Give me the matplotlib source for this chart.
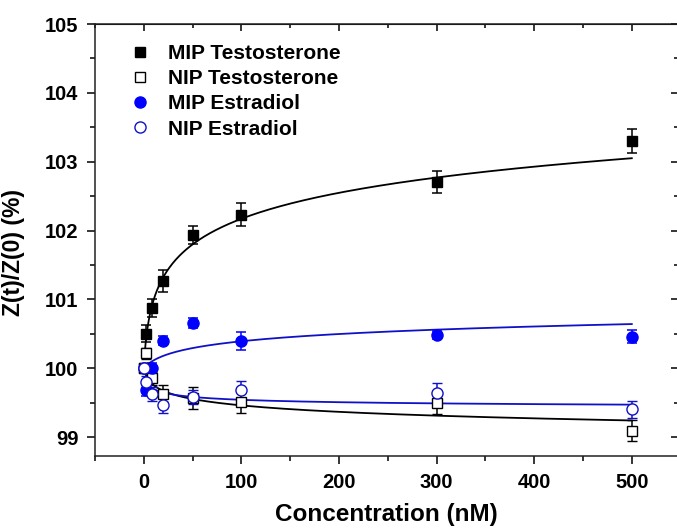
import numpy as np
import matplotlib
matplotlib.use("Agg")
import matplotlib.pyplot as plt
from matplotlib.lines import Line2D
from matplotlib.ticker import MultipleLocator

plt.rcParams['font.family'] = ['Liberation Sans', 'DejaVu Sans']
plt.rcParams['font.weight'] = 'bold'

# ---- data ----
conc = [0, 2, 8, 20, 50, 100, 300, 500]

mip_t = [100.0, 100.50, 100.87, 101.26, 101.94, 102.23, 102.70, 103.30]
mip_t_err = [0.05, 0.12, 0.13, 0.16, 0.13, 0.17, 0.16, 0.17]

nip_t = [100.0, 100.22, 99.85, 99.63, 99.57, 99.51, 99.50, 99.09]
nip_t_err = [0.05, 0.08, 0.10, 0.12, 0.16, 0.16, 0.17, 0.15]

mip_e = [100.0, 99.68, 100.0, 100.40, 100.66, 100.40, 100.48, 100.46]
mip_e_err = [0.05, 0.08, 0.08, 0.07, 0.07, 0.13, 0.06, 0.09]

nip_e = [100.0, 99.80, 99.63, 99.47, 99.58, 99.68, 99.64, 99.40]
nip_e_err = [0.05, 0.08, 0.10, 0.12, 0.10, 0.13, 0.15, 0.12]

labels = ["MIP Testosterone", "NIP Testosterone", "MIP Estradiol", "NIP Estradiol"]

# fit parameters (curves drawn in the reference)
# log model: y = 100 + a*ln(1 + x/c)
fit_mip_t = (0.552, 2.0)
fit_nip_t = (-0.1375, 2.0)
fit_mip_e = (0.163, 10.0)
# Hill model: y = 100 + B*x^n/(K^n + x^n)
fit_nip_e = (-0.605, 10.0, 0.5)

xfit = np.linspace(1, 500, 600)
def logfit(x, p):
    a, c = p
    return 100 + a * np.log(1 + x / c)
def hillfit(x, p):
    B, K, n = p
    r = (x / K) ** n
    return 100 + B * r / (1 + r)

BLUE = '#0000FF'
LBLUE = '#1010C8'

fig = plt.figure(figsize=(6.77, 5.29), dpi=100)
W, H = 677, 529
left_px, right_px, top_px, bot_px = 95, 678, 24, 456
ax = fig.add_axes([left_px / W, 1 - bot_px / H, (right_px - left_px) / W, (bot_px - top_px) / H])

# fit lines
ax.plot(xfit, logfit(xfit, fit_mip_t), color='black', lw=1.3, zorder=2)
ax.plot(xfit, logfit(xfit, fit_nip_t), color='black', lw=1.3, zorder=2)
ax.plot(xfit, logfit(xfit, fit_mip_e), color=LBLUE, lw=1.3, zorder=2)
ax.plot(xfit, hillfit(xfit, fit_nip_e), color=LBLUE, lw=1.3, zorder=2)

ms = 7
ekw = dict(capsize=3.5, elinewidth=1.1, capthick=1.1, linestyle='none', zorder=3)
ax.errorbar(conc, mip_t, yerr=mip_t_err, marker='s', ms=ms, mfc='black', mec='black',
            ecolor='black', **ekw)
ax.errorbar(conc, nip_t, yerr=nip_t_err, marker='s', ms=ms, mfc='white', mec='black',
            mew=1.0, ecolor='black', **ekw)
ax.errorbar(conc, mip_e, yerr=mip_e_err, marker='o', ms=ms + 1, mfc=BLUE, mec=BLUE,
            ecolor=BLUE, **ekw)
ax.errorbar(conc, nip_e, yerr=nip_e_err, marker='o', ms=ms + 1, mfc='white', mec=LBLUE,
            mew=1.0, ecolor=LBLUE, **ekw)

ax.set_xlim(-50, (right_px - 143.8) / 0.976)
ax.set_ylim(98.724, 105)

ax.xaxis.set_major_locator(MultipleLocator(100))
ax.xaxis.set_minor_locator(MultipleLocator(50))
ax.yaxis.set_major_locator(MultipleLocator(1))
ax.yaxis.set_minor_locator(MultipleLocator(0.5))
ax.tick_params(which='major', direction='out', length=6, width=1.1, labelsize=14.5, pad=6)
ax.tick_params(which='minor', direction='out', length=3.5, width=1.1)
for lab in ax.get_xticklabels() + ax.get_yticklabels():
    lab.set_fontweight('bold')

for s in ax.spines.values():
    s.set_linewidth(1.1)
    s.set_color('#222222')

# mirrored inward ticks on top and right
sx = ax.secondary_xaxis('top')
sx.xaxis.set_major_locator(MultipleLocator(100))
sx.xaxis.set_minor_locator(MultipleLocator(50))
sx.tick_params(which='major', direction='in', length=5, width=1.1, labeltop=False)
sx.tick_params(which='minor', direction='in', length=3, width=1.1)
sy = ax.secondary_yaxis('right')
sy.yaxis.set_major_locator(MultipleLocator(1))
sy.yaxis.set_minor_locator(MultipleLocator(0.5))
sy.tick_params(which='major', direction='in', length=5, width=1.1, labelright=False)
sy.tick_params(which='minor', direction='in', length=3, width=1.1)

ax.set_xlabel("Concentration (nM)", fontsize=17.5, fontweight='bold', labelpad=8)
ax.set_ylabel("Z(t)/Z(0) (%)", fontsize=16.5, fontweight='bold')
ax.yaxis.set_label_coords((25 - left_px) / (right_px - left_px), (bot_px - 252) / (bot_px - top_px))

handles = [
    Line2D([], [], ls='none', marker='s', ms=ms, mfc='black', mec='black'),
    Line2D([], [], ls='none', marker='s', ms=ms, mfc='white', mec='black', mew=1.0),
    Line2D([], [], ls='none', marker='o', ms=ms + 1, mfc=BLUE, mec=BLUE),
    Line2D([], [], ls='none', marker='o', ms=ms + 1, mfc='white', mec=LBLUE, mew=1.0),
]
leg = ax.legend(handles, labels, loc='upper left', bbox_to_anchor=(0.045, 0.973),
                frameon=False, fontsize=15, handlelength=1.0, handletextpad=0.85,
                labelspacing=0.3, borderaxespad=0.0)
for t in leg.get_texts():
    t.set_fontweight('bold')

fig.savefig("out.png", dpi=100)
